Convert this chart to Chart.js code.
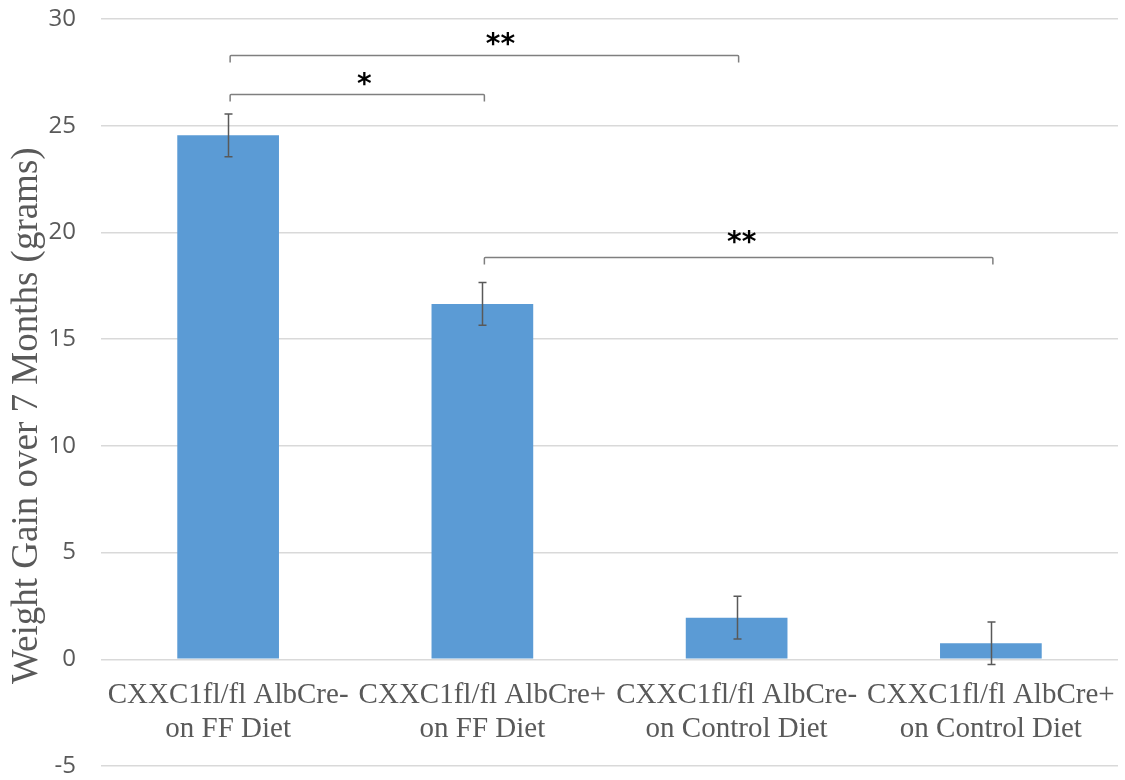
<!DOCTYPE html>
<html>
<head>
<meta charset="utf-8">
<script src="https://cdn.jsdelivr.net/npm/chart.js@4/dist/chart.umd.min.js"></script>
<style>
  html, body { margin: 0; padding: 0; background: #ffffff; }
  #wrap { width: 1125px; height: 780px; }
</style>
</head>
<body>
<div id="wrap"><canvas id="chart" width="1125" height="780"></canvas></div>
<script>
// Groups on the category axis (two-line labels)
const categories = [
  ['CXXC1fl/fl AlbCre-', 'on FF Diet'],
  ['CXXC1fl/fl AlbCre+', 'on FF Diet'],
  ['CXXC1fl/fl AlbCre-', 'on Control Diet'],
  ['CXXC1fl/fl AlbCre+', 'on Control Diet']
];
// Mean weight gain (g) and its error (g)
const weightGain = [24.55, 16.65, 1.95, 0.75];
const weightError = [1.0, 1.0, 1.0, 1.0];
// Value axis
const yMin = -5;
const yMax = 30;
const yStep = 5;
// Significance comparisons: category indices, bracket height (g), marker
const compareFrom = [0, 0, 1];
const compareTo = [2, 1, 3];
const compareLevel = [28.3, 26.5, 18.85];
const compareMark = ['**', '*', '**'];

const GRID = '#d9d9d9';
const TEXT = '#595959';

const errorBarPlugin = {
  id: 'errorBars',
  afterDatasetsDraw(chart) {
    const ctx = chart.ctx;
    const meta = chart.getDatasetMeta(0);
    const y = chart.scales.y;
    ctx.save();
    ctx.strokeStyle = '#595959';
    ctx.lineWidth = 1.5;
    meta.data.forEach((bar, i) => {
      const v = weightGain[i];
      const e = weightError[i];
      const x = Math.round(bar.x) + 0.5;
      const yt = y.getPixelForValue(v + e);
      const yb = y.getPixelForValue(v - e);
      ctx.beginPath();
      ctx.moveTo(x, yt); ctx.lineTo(x, yb);
      ctx.moveTo(x - 4, yt); ctx.lineTo(x + 4, yt);
      ctx.moveTo(x - 4, yb); ctx.lineTo(x + 4, yb);
      ctx.stroke();
    });
    ctx.restore();
  }
};

const bracketPlugin = {
  id: 'sigBrackets',
  afterDatasetsDraw(chart, args, opts) {
    const ctx = chart.ctx;
    const xs = chart.scales.x;
    const ys = chart.scales.y;
    ctx.save();
    compareLevel.forEach((lvl, k) => {
      const x1 = xs.getPixelForValue(compareFrom[k]) + 2;
      const x2 = xs.getPixelForValue(compareTo[k]) + 2;
      const yy = Math.round(ys.getPixelForValue(lvl)) + 0.5;
      ctx.strokeStyle = '#7f7f7f';
      ctx.lineWidth = 1.5;
      ctx.lineJoin = 'round';
      ctx.beginPath();
      ctx.moveTo(x1, yy + 7);
      ctx.lineTo(x1, yy + 1);
      ctx.quadraticCurveTo(x1, yy, x1 + 1, yy);
      ctx.lineTo(x2 - 1, yy);
      ctx.quadraticCurveTo(x2, yy, x2, yy + 1);
      ctx.lineTo(x2, yy + 7);
      ctx.stroke();
      ctx.fillStyle = '#000000';
      ctx.font = 'bold 28px "DejaVu Sans", sans-serif';
      ctx.textAlign = 'center';
      ctx.textBaseline = 'middle';
      ctx.fillText(compareMark[k], (x1 + x2) / 2 + opts.markShift[k], yy - opts.markRise[k]);
    });
    ctx.restore();
  }
};

new Chart(document.getElementById('chart'), {
  type: 'bar',
  data: {
    labels: categories,
    datasets: [{
      data: weightGain,
      backgroundColor: '#5b9bd5',
      borderWidth: 0,
      barPercentage: 0.4,
      categoryPercentage: 1.0
    }]
  },
  options: {
    responsive: false,
    animation: false,
    layout: { padding: { top: 19, right: 7, bottom: 14, left: 0 } },
    plugins: {
      legend: { display: false },
      tooltip: { enabled: false },
      sigBrackets: { markShift: [16, 7, 3], markRise: [10, 9, 14] }
    },
    scales: {
      x: {
        position: { y: 0 },
        grid: { display: false, drawTicks: false },
        border: { display: false },
        ticks: {
          color: TEXT,
          padding: 19,
          maxRotation: 0,
          autoSkip: false,
          font: { family: '"Liberation Serif", "Times New Roman", serif', size: 29, lineHeight: 1.17 }
        },
        afterFit(scale) {
          scale.height = 0;
          scale.paddingLeft = 0; scale.paddingRight = 0;
          scale.paddingTop = 0; scale.paddingBottom = 0;
        }
      },
      y: {
        min: yMin,
        max: yMax,
        ticks: {
          stepSize: yStep,
          color: TEXT,
          padding: 25,
          font: { family: '"Open Sans", sans-serif', size: 24 }
        },
        grid: { color: GRID, lineWidth: 1.5, drawTicks: false },
        border: { display: false },
        title: {
          display: true,
          // trailing spaces nudge the rotated title toward the bottom of the axis
          text: 'Weight Gain over 7 Months (grams)     ',
          color: TEXT,
          padding: { top: 5, bottom: 0 },
          font: { family: '"Liberation Serif", "Times New Roman", serif', size: 37, lineHeight: 1.2 }
        },
        afterFit(scale) {
          scale.width = 101;
          scale.paddingTop = 0; scale.paddingBottom = 0;
        }
      }
    }
  },
  plugins: [errorBarPlugin, bracketPlugin]
});
</script>
</body>
</html>
